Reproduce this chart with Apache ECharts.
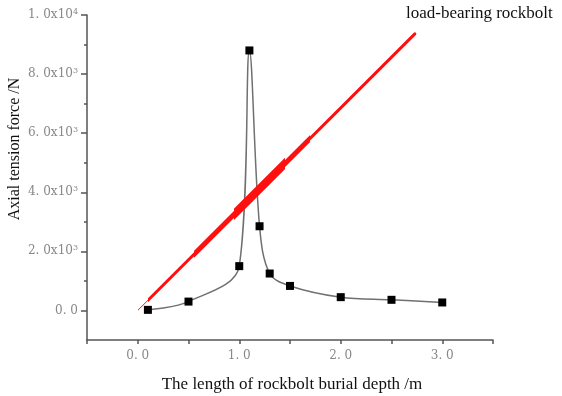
<!DOCTYPE html>
<html>
<head>
<meta charset="utf-8">
<script src="https://cdn.jsdelivr.net/npm/echarts@6/dist/echarts.min.js"></script>
<style>
  html, body { margin: 0; padding: 0; background: #fff; }
  #chart { width: 562px; height: 396px; }
</style>
</head>
<body>
<div id="chart"></div>
<script>
// Measured axial tension along the rockbolt
const depth = [0.1, 0.5, 1.0, 1.1, 1.2, 1.3, 1.5, 2.0, 2.5, 3.0];
const force = [20, 300, 1500, 8800, 2850, 1250, 830, 450, 360, 270];

// Load-bearing rockbolt reference line (start and end)
const boltDepth = [0, 2.73];
const boltForce = [0, 9360];

// Axis ticks
const yMajorTicks = [0, 2000, 4000, 6000, 8000, 10000];
const yMinorTicks = [1000, 3000, 5000, 7000, 9000];
const xLabelTicks = [0, 1, 2, 3];

function yLabel(v) {
  if (v === 0) return '{m|0. 0}';
  const e = Math.floor(Math.log10(v));
  const m = (v / Math.pow(10, e)).toFixed(1).replace('.', '. ');
  return '{m|' + m + 'x10}{s|' + e + '}';
}

const curve = depth.map((d, i) => [d, force[i]]);
const bolt = boltDepth.map((d, i) => [d, boltForce[i]]);

const RED = '#ff1010';
const CLEAR = 'rgba(255,16,16,0)';
const LABEL_FONT = 'DejaVu Serif';

// The bolt line is drawn in layers; each layer is shown only over a depth band
const boltLayers = [
  { width: 1, from: 0, to: 2.8 },
  { width: 3, from: 0.1, to: 2.8 },
  { width: 5, from: 0.55, to: 1.7 },
  { width: 8, from: 0.95, to: 1.45 }
];

const series = [{
  type: 'line',
  data: curve,
  smooth: 0.35,
  symbol: 'rect',
  symbolSize: 8,
  itemStyle: { color: '#000' },
  lineStyle: { color: '#707070', width: 1.5 },
  z: 2
}];
const visualMap = [];
boltLayers.forEach((layer, k) => {
  series.push({
    type: 'line',
    data: bolt,
    symbol: 'none',
    lineStyle: { width: layer.width, cap: 'round' },
    z: 3 + k,
    silent: true
  });
  visualMap.push({
    type: 'piecewise',
    show: false,
    dimension: 0,
    seriesIndex: series.length - 1,
    pieces: [
      { lt: layer.from, color: CLEAR },
      { gte: layer.from, lte: layer.to, color: RED },
      { gt: layer.to, color: CLEAR }
    ]
  });
});

const tickStyle = { color: '#555', width: 1.5 };

const chart = echarts.init(document.getElementById('chart'), null, { renderer: 'canvas' });
chart.setOption({
  animation: false,
  backgroundColor: '#fff',
  grid: { left: 87, right: 69, top: 15, bottom: 56 },
  xAxis: {
    type: 'value',
    min: -0.5,
    max: 3.5,
    interval: 0.5,
    splitLine: { show: false },
    axisLine: { onZero: false, lineStyle: tickStyle },
    axisTick: { show: true, inside: false, length: 4, lineStyle: tickStyle },
    axisLabel: {
      customValues: xLabelTicks,
      margin: 10,
      color: '#888',
      fontFamily: LABEL_FONT,
      fontSize: 12,
      formatter: v => v.toFixed(1).replace('.', '. ')
    }
  },
  yAxis: [{
    type: 'value',
    min: -1000,
    max: 10000,
    splitLine: { show: false },
    axisLine: { show: true, onZero: false, lineStyle: tickStyle },
    axisTick: { show: true, customValues: yMajorTicks, length: 6, lineStyle: tickStyle },
    axisLabel: {
      customValues: yMajorTicks,
      margin: 9,
      formatter: yLabel,
      rich: {
        m: { color: '#888', fontFamily: LABEL_FONT, fontSize: 12 },
        s: { color: '#888', fontFamily: LABEL_FONT, fontSize: 8, padding: [0, 0, 7, 0] }
      }
    }
  }, {
    type: 'value',
    min: -1000,
    max: 10000,
    position: 'left',
    splitLine: { show: false },
    axisLine: { show: false, onZero: false },
    axisLabel: { show: false },
    axisTick: { show: true, customValues: yMinorTicks, length: 3, lineStyle: tickStyle }
  }],
  visualMap: visualMap,
  series: series,
  graphic: [{
    type: 'text',
    left: 406,
    top: 5,
    style: { text: 'load-bearing rockbolt', font: '17px "Liberation Serif"', fill: '#111' }
  }, {
    type: 'text',
    x: 292,
    y: 385,
    style: {
      text: 'The length of rockbolt burial depth /m',
      font: '17px "Liberation Serif"', fill: '#111',
      align: 'center', verticalAlign: 'middle'
    }
  }, {
    type: 'text',
    x: 15,
    y: 149,
    rotation: Math.PI / 2,
    style: {
      text: 'Axial tension force /N',
      font: '16px "Liberation Serif"', fill: '#111',
      align: 'center', verticalAlign: 'middle'
    }
  }]
});
</script>
</body>
</html>
